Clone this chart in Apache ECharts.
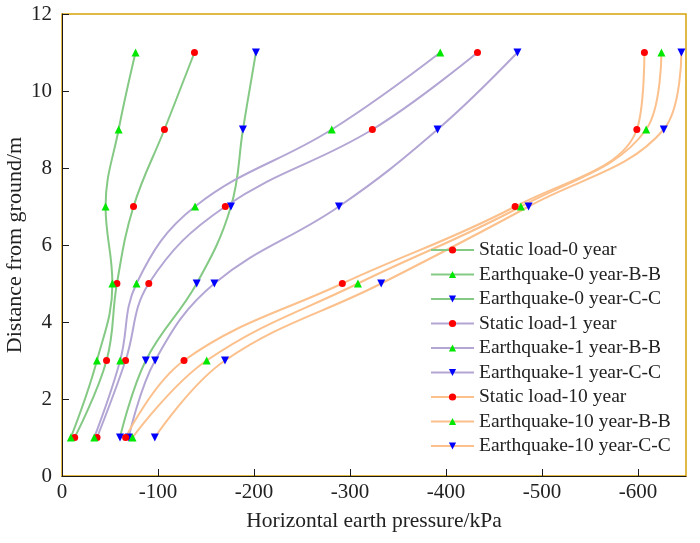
<!DOCTYPE html>
<html lang="en">
<head>
    <meta charset="UTF-8">
    <title>Horizontal earth pressure</title>
    <script src="https://cdn.jsdelivr.net/npm/echarts@6/dist/echarts.min.js"></script>
    <style>
        html, body { margin: 0; padding: 0; background: #fff; }
        #chart { width: 700px; height: 543px; }
    </style>
</head>
<body>
<div id="chart"></div>
<script type="text/javascript">
    // depth of each reading (m)
    var depths = [1, 3, 5, 7, 9, 11];

    // horizontal earth pressure (kPa)
    var static0 = [-13.2, -46.4, -57.2, -74.5, -106.7, -138];
    var quake0BB = [-9.2, -36.4, -52.5, -45.4, -59, -76.6];
    var quake0CC = [-60.4, -87.3, -140.3, -176, -188.5, -202];
    var static1 = [-36.5, -66.2, -90.4, -170.1, -323.3, -432.8];
    var quake1BB = [-33.6, -60.6, -77.6, -138.6, -281, -394];
    var quake1CC = [-69.5, -97, -158.7, -288.5, -391.2, -474.4];
    var static10 = [-66.3, -127.1, -292, -472, -598.8, -606.7];
    var quake10BB = [-73.5, -150.7, -308.3, -478, -608.5, -624.4];
    var quake10CC = [-96.7, -169.8, -332.5, -486, -626.8, -645.2];

    var xTicks = [0, -100, -200, -300, -400, -500, -600];

    var GREEN = '#84c984', PURPLE = '#b3a6d4', ORANGE = '#fcc08c';

    var defs = [
        ['Static load-0 year', static0, GREEN, 'red'],
        ['Earthquake-0 year-B-B', quake0BB, GREEN, 'tri'],
        ['Earthquake-0 year-C-C', quake0CC, GREEN, 'inv'],
        ['Static load-1 year', static1, PURPLE, 'red'],
        ['Earthquake-1 year-B-B', quake1BB, PURPLE, 'tri'],
        ['Earthquake-1 year-C-C', quake1CC, PURPLE, 'inv'],
        ['Static load-10 year', static10, ORANGE, 'red'],
        ['Earthquake-10 year-B-B', quake10BB, ORANGE, 'tri'],
        ['Earthquake-10 year-C-C', quake10CC, ORANGE, 'inv']
    ];

    // the axis runs 0 -> -650 left to right; plot magnitudes and label with a minus sign
    var series = defs.map(function (d) {
        var mk = d[3];
        return {
            name: d[0],
            type: 'line',
            smooth: 0.4,
            symbol: mk === 'red' ? 'circle' : 'triangle',
            symbolSize: mk === 'red' ? 7 : 8,
            symbolRotate: mk === 'inv' ? 180 : 0,
            lineStyle: {color: d[2], width: 2},
            itemStyle: {color: mk === 'red' ? '#ff0000' : (mk === 'tri' ? '#00e800' : '#0000ff')},
            data: d[1].map(function (v, i) { return [-v, depths[i]]; }),
            z: 3
        };
    });

    var serif = 'Liberation Serif, Times New Roman, serif';

    var chart = echarts.init(document.getElementById('chart'));
    chart.setOption({
        animation: false,
        grid: {
            left: 62, right: 14, top: 14, bottom: 67,
            containLabel: false,
            outerBoundsMode: 'none',
            show: true, borderColor: '#d8a308', borderWidth: 1.5
        },
        legend: {
            orient: 'vertical',
            left: 425,
            top: 235,
            itemWidth: 43,
            itemHeight: 9,
            itemGap: 4.5,
            textStyle: {fontFamily: serif, fontSize: 19.5, color: '#222', lineHeight: 20},
            data: defs.map(function (d) { return d[0]; })
        },
        xAxis: {
            type: 'value',
            min: 0,
            max: 650,
            interval: 100,
            name: 'Horizontal earth pressure/kPa',
            nameLocation: 'middle',
            nameGap: 34,
            nameTextStyle: {fontFamily: serif, fontSize: 21.5, color: '#222'},
            axisLine: {show: true, lineStyle: {color: '#1a1a1a', width: 1}},
            axisTick: {inside: true, length: 7, lineStyle: {color: '#1a1a1a'}},
            axisLabel: {
                fontFamily: serif, fontSize: 21, color: '#222', margin: 6,
                showMaxLabel: false,
                formatter: function (v) {
                    return xTicks.indexOf(-v) >= 0 ? String(-v === 0 ? 0 : -v) : '';
                }
            },
            splitLine: {show: false}
        },
        yAxis: {
            type: 'value',
            min: 0,
            max: 12,
            interval: 2,
            name: 'Distance from ground/m',
            nameLocation: 'middle',
            nameMoveOverlap: false,
            nameGap: 36,
            nameTextStyle: {fontFamily: serif, fontSize: 22, color: '#222'},
            axisLine: {show: true, lineStyle: {color: '#1a1a1a', width: 1}},
            axisTick: {inside: true, length: 7, lineStyle: {color: '#1a1a1a'}},
            axisLabel: {fontFamily: serif, fontSize: 21, color: '#222', margin: 10},
            splitLine: {show: false}
        },
        series: series
    });
</script>
</body>
</html>
